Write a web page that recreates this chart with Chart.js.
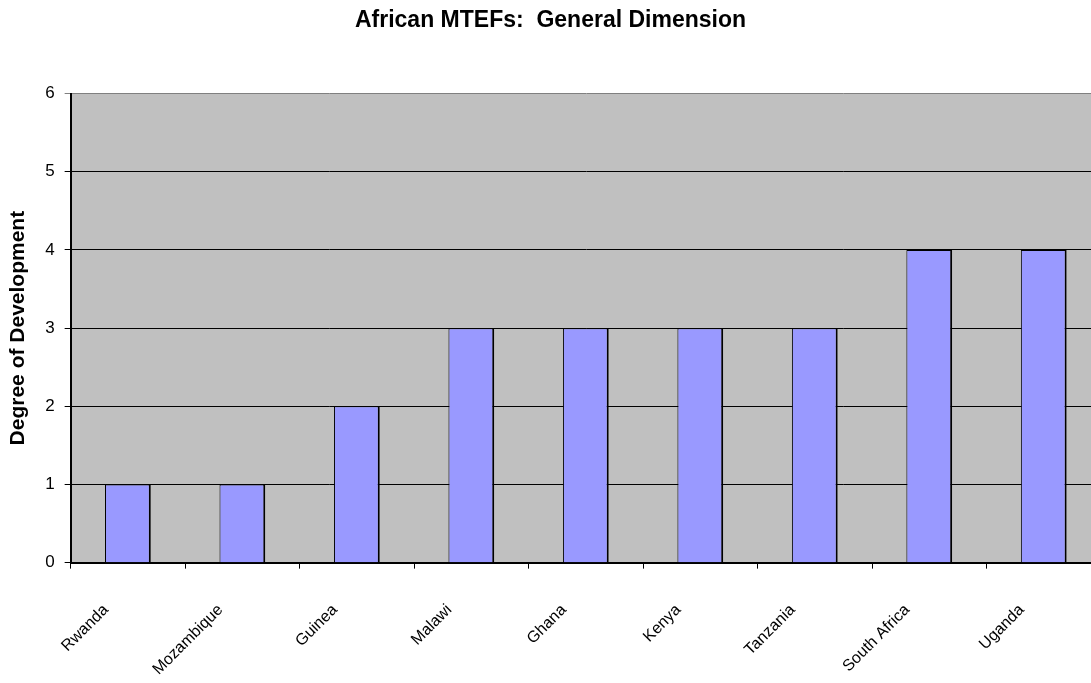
<!DOCTYPE html>
<html>
<head>
<meta charset="utf-8">
<script src="https://cdn.jsdelivr.net/npm/chart.js@4/dist/chart.umd.min.js"></script>
<style>
    body { margin: 0; background: #fff; overflow: hidden; }
    #wrap { position: relative; width: 1101px; height: 711px; }
</style>
</head>
<body>
<div id="wrap"><canvas id="graphique"></canvas></div>
<script>
const countries = ["Rwanda", "Mozambique", "Guinea", "Malawi", "Ghana", "Kenya", "Tanzania", "South Africa", "Uganda"];
const degree = [1, 1, 2, 3, 3, 3, 3, 4, 4];
const yTicks = [0, 1, 2, 3, 4, 5, 6];

// fond gris de la zone de tracé
const plotBg = {
    id: "plotBg",
    beforeDraw(chart) {
        const a = chart.chartArea;
        const ctx = chart.ctx;
        ctx.save();
        ctx.fillStyle = "#c0c0c0";
        ctx.fillRect(a.left, a.top, a.right - a.left, a.bottom - a.top);
        ctx.restore();
    }
};

const data = {
    labels: countries,
    datasets: [{
        label: "Degree of Development",
        data: degree,
        backgroundColor: "#9999ff",
        borderColor: "#000",
        borderWidth: { top: 1, left: 1, right: 2, bottom: 0 },
        borderSkipped: false,
        categoryPercentage: 1,
        barPercentage: 0.4,
    }]
};

const config = {
    type: "bar",
    data: data,
    plugins: [plotBg],
    options: {
        responsive: true,
        maintainAspectRatio: false,
        animation: false,
        layout: { padding: 0 },
        plugins: {
            legend: { display: false },
            tooltip: { enabled: false },
            title: {
                display: true,
                text: "African MTEFs:  General Dimension",
                color: "#000",
                font: { family: "Liberation Sans, Arial", size: 23, weight: "bold" },
                padding: { top: 7, bottom: 59 },
            },
        },
        scales: {
            x: {
                grid: { drawOnChartArea: false, color: "#000", tickLength: 6, lineWidth: 1 },
                border: { color: "#000", width: 2 },
                ticks: {
                    color: "#000",
                    font: { family: "Liberation Sans Narrow, Liberation Sans, Arial", size: 16 },
                    minRotation: 45,
                    maxRotation: 45,
                    padding: 32,
                    labelOffset: -22,
                },
            },
            y: {
                min: 0,
                max: 6,
                afterBuildTicks: (axis) => { axis.ticks = yTicks.map(v => ({ value: v })); },
                grid: {
                    color: (c) => c.tick && c.tick.value === 6 ? "#808080" : "#000",
                    tickLength: 6,
                    lineWidth: 1,
                },
                border: { color: "#000", width: 2 },
                ticks: {
                    color: "#000",
                    font: { family: "Liberation Sans, Arial", size: 17 },
                    padding: 10,
                },
                title: {
                    display: true,
                    text: "Degree of Development",
                    color: "#000",
                    font: { family: "Liberation Sans, Arial", size: 21, weight: "bold" },
                    padding: { top: 6, bottom: 4 },
                },
            },
        },
    },
};

new Chart(document.querySelector("#graphique"), config);
</script>
</body>
</html>
